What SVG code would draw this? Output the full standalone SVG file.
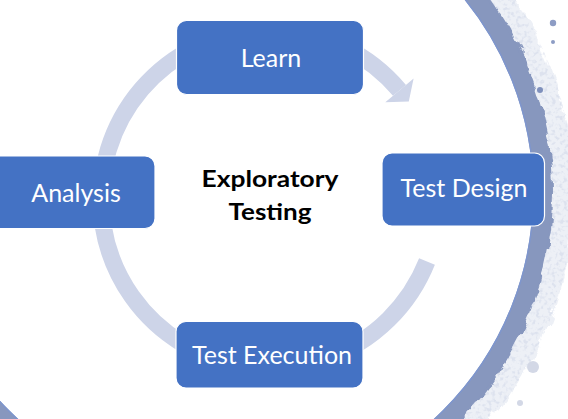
<svg xmlns="http://www.w3.org/2000/svg" width="568" height="419" viewBox="0 0 568 419">
  <defs>
    <filter id="speckle" x="-20%" y="-20%" width="140%" height="140%">
      <feTurbulence type="fractalNoise" baseFrequency="0.25" numOctaves="2" seed="7" result="noise"/>
      <feColorMatrix in="noise" type="matrix" values="0 0 0 0 0.62  0 0 0 0 0.67  0 0 0 0 0.80  4.5 0 0 0 -2.2" result="spots"/>
      <feComposite in="spots" in2="SourceGraphic" operator="in"/>
    </filter>
    <filter id="rough" x="-20%" y="-20%" width="140%" height="140%">
      <feTurbulence type="fractalNoise" baseFrequency="0.06" numOctaves="3" seed="3" result="n"/>
      <feDisplacementMap in="SourceGraphic" in2="n" scale="12" xChannelSelector="R" yChannelSelector="G"/>
    </filter>
    <style>
      .box { fill: #4472C4; stroke: #FFFFFF; stroke-width: 1.2; }
      .lbl { font-family: Lato, "Liberation Sans", sans-serif; font-size: 25px; fill: #FFFFFF; text-anchor: middle; }
      .ctr { font-family: Lato, "Liberation Sans", sans-serif; font-size: 23.5px; font-weight: bold; fill: #000000; text-anchor: middle; }
      .cyc { fill: none; stroke: #CDD4E8; stroke-width: 17; }
    </style>
  </defs>

  <rect x="0" y="0" width="568" height="419" fill="#FFFFFF"/>

  <!-- background grunge ring -->
  <g id="background-ring">
    <circle cx="226" cy="193" r="336" fill="none" stroke="#E8ECF4" stroke-width="24" filter="url(#rough)" opacity="0.75"/>
    <circle cx="226" cy="193" r="335" fill="none" stroke="#000" stroke-width="26" filter="url(#speckle)" opacity="0.5"/>
    <circle cx="226" cy="193" r="320" fill="none" stroke="#8797BE" stroke-width="14" filter="url(#rough)"/>
    <circle cx="226" cy="193" r="316" fill="none" stroke="#8797BE" stroke-width="18"/>
    <circle cx="226" cy="193" r="307.6" fill="none" stroke="#7E96CE" stroke-width="1.4"/>
    <circle cx="553" cy="23" r="3.2" fill="#8D9CC4"/>
    <circle cx="553" cy="42" r="2" fill="#8D9CC4"/>
    <circle cx="533" cy="367" r="6" fill="#D3D8E6"/>
    <circle cx="520" cy="403" r="3" fill="#D3D8E6"/>
    <circle cx="540" cy="90" r="3" fill="#7F90BC"/>
  </g>

  <!-- cycle connectors -->
  <g id="connectors">
    <path class="cyc" d="M 427 261.5 A 169 169 0 1 1 399.5 90.4"/>
    <polygon points="385.3,102.3 413.6,78.5 408.8,101.5" fill="#CDD4E8"/>
  </g>

  <g id="node-learn">
    <rect class="box" x="176.5" y="20.5" width="187" height="74" rx="10"/>
    <text class="lbl" x="271" y="67">Learn</text>
  </g>

  <g id="node-test-design">
    <rect class="box" x="382" y="153" width="162.5" height="73" rx="10"/>
    <text class="lbl" x="464" y="197">Test Design</text>
  </g>

  <g id="node-test-execution">
    <rect class="box" x="176" y="321.5" width="187" height="66.5" rx="10"/>
    <text class="lbl" x="272" y="364">Test Execution</text>
  </g>

  <g id="node-analysis">
    <rect class="box" x="-12" y="156" width="167" height="72.5" rx="10"/>
    <text class="lbl" x="76" y="201.5">Analysis</text>
  </g>

  <g id="center-label">
    <text class="ctr" x="270" y="187" textLength="137" lengthAdjust="spacingAndGlyphs">Exploratory</text>
    <text class="ctr" x="270" y="219.5" textLength="83" lengthAdjust="spacingAndGlyphs">Testing</text>
  </g>
</svg>
